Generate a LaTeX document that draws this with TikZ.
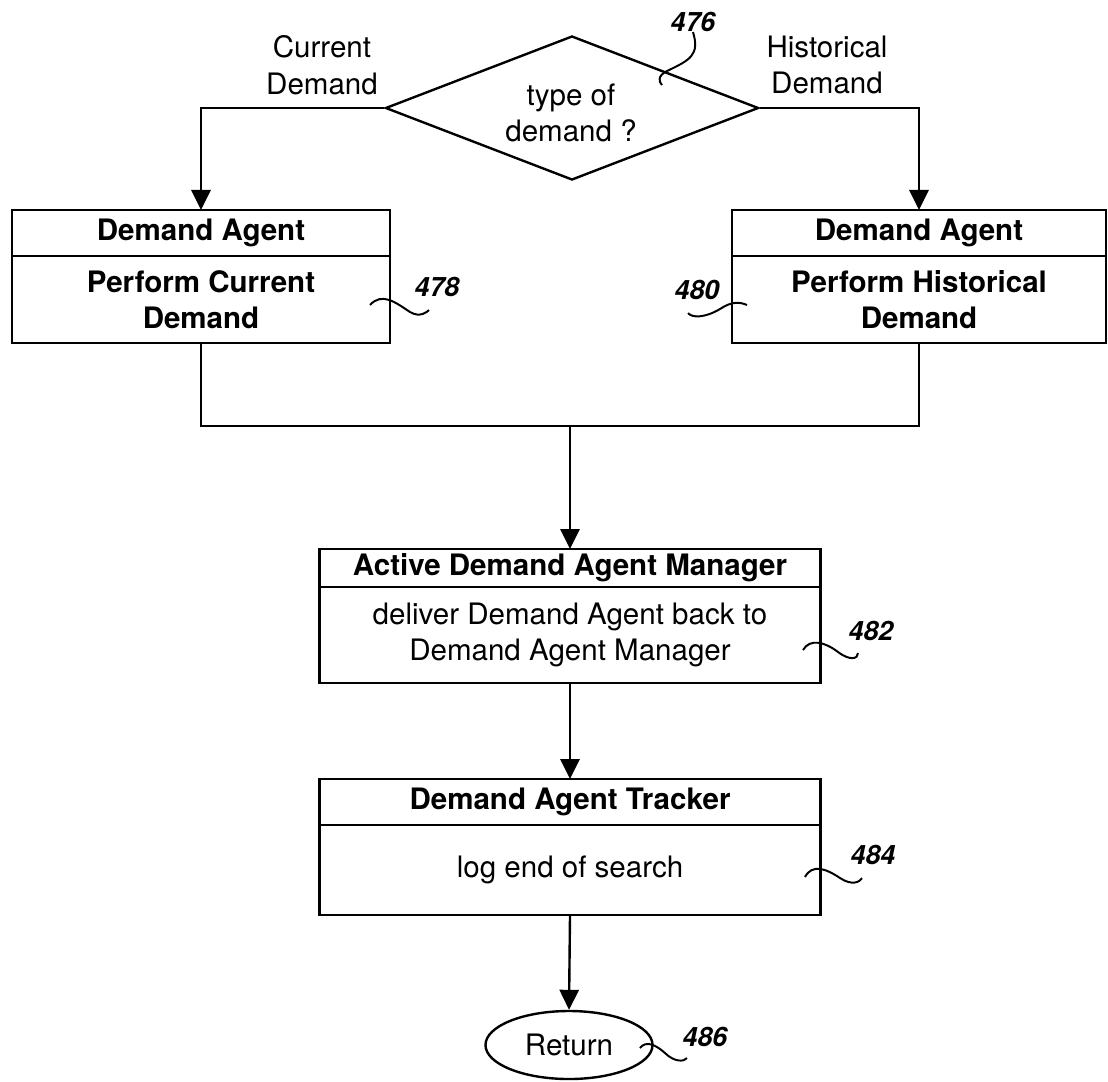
\documentclass[tikz,border=0pt]{standalone}
\usepackage{fontspec}
\setmainfont{TeX Gyre Heros}
\usetikzlibrary{arrows.meta,positioning,shapes.geometric}
\tikzset{hdr/.style={draw,line width=1.7pt,outer sep=0pt,inner sep=0pt,align=center,font=\bfseries\fontsize{21}{26}\selectfont},
plain/.style={hdr,font=\fontsize{21}{26}\selectfont},lbl/.style={align=center,inner sep=0pt,font=\fontsize{21}{26}\selectfont},
refnum/.style={inner sep=0pt,font=\bfseries\itshape\fontsize{19}{22}\selectfont},
arr/.style={-{Triangle[length=5mm,width=4.8mm]},line width=1.7pt},lead/.style={line width=1.4pt}}

\begin{document}
\begin{tikzpicture}[x=0.025cm,y=-0.025cm,node distance=0pt]
\useasboundingbox (0,0) rectangle (1108,1081);
\node[diamond,draw,line width=1.7pt,aspect=2.6,inner sep=0pt,minimum width=9.325cm,minimum height=3.6cm] (dia) at (572,108) {};
\node[lbl] (q) at (571,113) {type of\\demand ?};
\node[lbl] (cur) at (322,65) {Current\\Demand};
\node[lbl] (his) at (827,65) {Historical\\Demand};
\node[hdr,minimum width=9.45cm,minimum height=1.15cm] (lhdr) at (201,233) {Demand Agent};
\node[hdr,minimum width=9.45cm,minimum height=2.175cm,below=of lhdr] (lbody) {Perform Current\\Demand};
\node[hdr,minimum width=9.35cm,minimum height=1.15cm] (rhdr) at (919,233) {Demand Agent};
\node[hdr,minimum width=9.35cm,minimum height=2.175cm,below=of rhdr] (rbody) {Perform Historical\\Demand};
\coordinate (jm) at (570,426);
\node[hdr,minimum width=12.525cm,minimum height=0.95cm] (mhdr) at (570,568) {Active Demand Agent Manager};
\node[plain,minimum width=12.525cm,minimum height=2.4cm,below=of mhdr] (mbody) {deliver Demand Agent back to\\Demand Agent Manager};
\node[hdr,minimum width=12.525cm,minimum height=1.15cm] (thdr) at (570,802) {Demand Agent Tracker};
\node[plain,minimum width=12.525cm,minimum height=2.25cm,below=of thdr] (tbody) {log end of search};
\node[ellipse,draw,line width=1.7pt,inner sep=0pt,minimum width=4.175cm,minimum height=1.7cm,font=\fontsize{21}{26}\selectfont] (ret) at (569,1045) {Return};
% reference numerals
\node[refnum] (n476) at (693,22) {476};
\node[refnum] (n478) at (437,287) {478};
\node[refnum] (n480) at (697,290) {480};
\node[refnum] (n482) at (871,631) {482};
\node[refnum] (n484) at (873,855) {484};
\node[refnum] (n486) at (705,1037) {486};
\coordinate (c476) at (662,85);\coordinate (c478) at (370,305);\coordinate (c480) at (747,305);
\coordinate (c482) at (803,650);\coordinate (c484) at (805,877);\coordinate (c486) at (640,1048);
% flow
\draw[arr] (dia.west) -| (lhdr.north);\draw[arr] (dia.east) -| (rhdr.north);
\draw[line width=1.7pt] (lbody.south) |- (jm) -| (rbody.south);
\draw[arr] (jm) -- (mhdr.north);\draw[arr] (mbody.south) -- (thdr.north);\draw[arr] (tbody.south) -- (ret.north);
% leaders
\draw[lead] (n476.south) .. controls (700,55) and (690,60) .. (667,71) .. controls (657,76) and (659,82) .. (c476);
\draw[lead] (c478) .. controls (382,292) and (395,302) .. (410,312) .. controls (420,318) and (427,312) .. ([shift={(-8,13)}]n478.south);
\draw[lead] ([shift={(-9,13)}]n480.south) .. controls (692,318) and (705,318) .. (720,309) .. controls (732,301) and (740,302) .. (c480);
\draw[lead] (c482) .. controls (810,638) and (825,642) .. (838,652) .. controls (850,661) and (858,659) .. ([shift={(-13,12)}]n482.south);
\draw[lead] (c484) .. controls (812,864) and (825,868) .. (840,878) .. controls (852,886) and (860,882) .. ([shift={(-11,13)}]n484.south);
\draw[lead] (c486) .. controls (646,1040) and (656,1045) .. (665,1053) .. controls (674,1062) and (684,1062) .. ([shift={(-18,11)}]n486.south);
\end{tikzpicture}
\end{document}
